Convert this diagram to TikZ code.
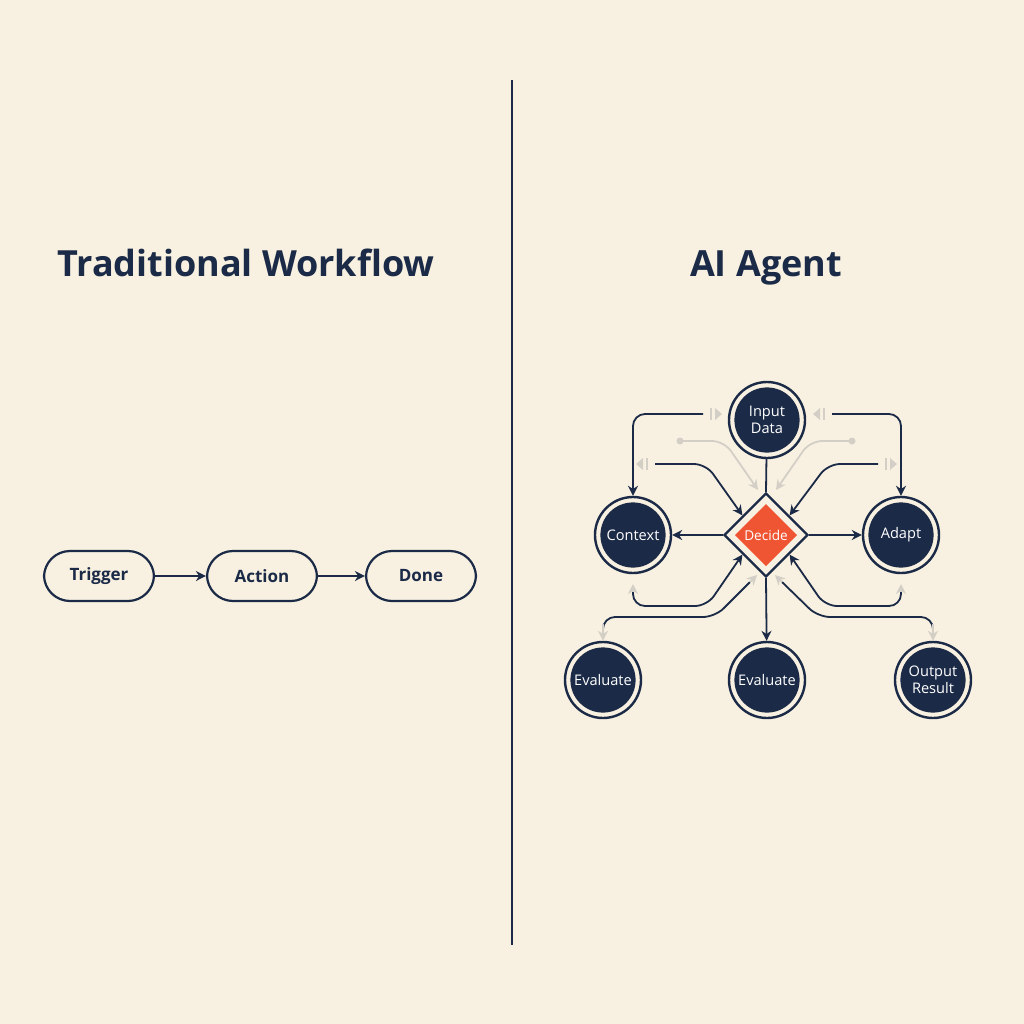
\documentclass[tikz,border=0pt]{standalone}
\usepackage{fontspec}
\setmainfont{Open Sans}
\usetikzlibrary{shapes.geometric,arrows.meta}
\definecolor{bg}{HTML}{F8F1E1}
\definecolor{navy}{HTML}{1B2A47}
\definecolor{red}{HTML}{EF5533}
\definecolor{faint}{HTML}{D3CFC6}
\begin{document}
\begin{tikzpicture}[x=0.5pt,y=-0.5pt,
  box/.style={draw=navy,line width=1.1pt,rounded corners=13pt,minimum width=55pt,minimum height=25pt,font=\fontsize{8.5}{10}\selectfont\bfseries,text=navy},
  circ/.style={circle,draw=navy,line width=1.2pt,fill=bg,minimum size=38pt,inner sep=0pt,text=white,align=center,
     font=\fontsize{7.3}{8.3}\selectfont,
     path picture={\fill[navy] (path picture bounding box.center) circle (16.3pt);}},
  dia/.style={diamond,draw=navy,line width=1.2pt,fill=bg,minimum size=42pt,inner sep=0pt,text=white,font=\fontsize{6.8}{8}\selectfont,
     path picture={\fill[red] ([yshift=15.5pt]path picture bounding box.center) -- ++(-15.5pt,-15.5pt) -- ++(15.5pt,-15.5pt) -- ++(15.5pt,15.5pt) -- cycle;}},
  con/.style={draw=navy,line width=0.9pt,rounded corners=6pt},
  arr/.style={con,-{Stealth[length=5pt,width=5pt]}},
  fa/.style={draw=faint,line width=0.9pt,rounded corners=6pt},
  ftip/.style={-{Stealth[length=5pt,width=5pt,color=faint]}},
  title/.style={font=\fontsize{18}{20}\selectfont\bfseries,text=navy,anchor=base}]
\fill[bg] (0,0) rectangle (1024,1024);
\useasboundingbox (0,0) rectangle (1024,1024);
\draw[navy,line width=1.1pt] (512,80) -- (512,945);
\node[title] (t1) at (246,276) {Traditional Workflow};
\node[title] (t2) at (766,276) {AI Agent};
% left
\node[box] (trig) at (99,576) {Trigger};
\node[box] (act) at (262,576) {Action};
\node[box] (done) at (421,576) {Done};
\draw[arr] (trig) -- (act);
\draw[arr] (act) -- (done);
% right
\node[circ] (in) at (767,420) {Input\\Data};
\node[dia] (dec) at (766,535) {Decide};
\node[circ] (ctx) at (633,535) {Context};
\node[circ] (ad) at (901,535) {Adapt};
\node[circ] (ev1) at (603,680) {Evaluate};
\node[circ] (ev2) at (767,680) {Evaluate};
\node[circ] (out) at (933,680) {Output\\Result};
\draw[con] (in) -- (dec.north);
\draw[arr] (dec.west) -- (ctx);
\draw[arr] (dec.east) -- (ad);
\draw[arr] (dec.south) -- (ev2);
\coordinate (a1) at (703,414); \coordinate (a2) at (832,414);
\draw[arr] (a1) -- (633,414) -- (ctx.north);
\draw[arr] (a2) -- (901,414) -- (ad.north);
\coordinate (b1) at (655,464); \coordinate (b2) at (878,464);
\draw[arr] (b1) -- (706,464) -- ([xshift=-1pt,yshift=-1pt]dec.north west);
\draw[arr] (b2) -- (828,464) -- ([xshift=1pt,yshift=-1pt]dec.north east);
\coordinate (g1) at (680,441); \coordinate (g2) at (852,441);
\draw[fa,ftip] (g1) -- (724,441) -- (758,490);
\draw[fa,ftip] (g2) -- (810,441) -- (776,490);
\fill[faint] (g1) circle (3.5); \fill[faint] (g2) circle (3.5);
% small faint marks
\draw[faint,line width=1pt] (711,408) -- (711,420); \fill[faint] (715,408) -- (722,414) -- (715,420) -- cycle;
\draw[faint,line width=1pt] (824,408) -- (824,420); \fill[faint] (820,408) -- (813,414) -- (820,420) -- cycle;
\draw[faint,line width=1pt] (647,458) -- (647,470); \fill[faint] (643,458) -- (636,464) -- (643,470) -- cycle;
\draw[faint,line width=1pt] (886,458) -- (886,470); \fill[faint] (890,458) -- (897,464) -- (890,470) -- cycle;
% bottom loops
\coordinate (c1) at (633,584); \coordinate (c2) at (901,584);
\draw[con,-{Stealth[length=5pt,width=5pt]}] (633,590) -- (633,606) -- (707,606) -- ([xshift=-1pt,yshift=1pt]dec.south west);
\draw[con,-{Stealth[length=5pt,width=5pt]}] (901,590) -- (901,606) -- (825,606) -- ([xshift=1pt,yshift=1pt]dec.south east);
\draw[faint,line width=0.9pt,ftip] (633,592) -- (c1);
\draw[faint,line width=0.9pt,ftip] (901,592) -- (c2);
\draw[con] (603,624) -- (603,617) -- (715,617) -- (750,582);
\draw[con] (933,624) -- (933,617) -- (818,617) -- (782,582);
\draw[fa,ftip] (750,582) -- (757,575);
\draw[fa,ftip] (782,582) -- (775,575);
\draw[fa,ftip] (603,624) -- (ev1.north);
\draw[fa,ftip] (933,624) -- (out.north);
\end{tikzpicture}
\end{document}
